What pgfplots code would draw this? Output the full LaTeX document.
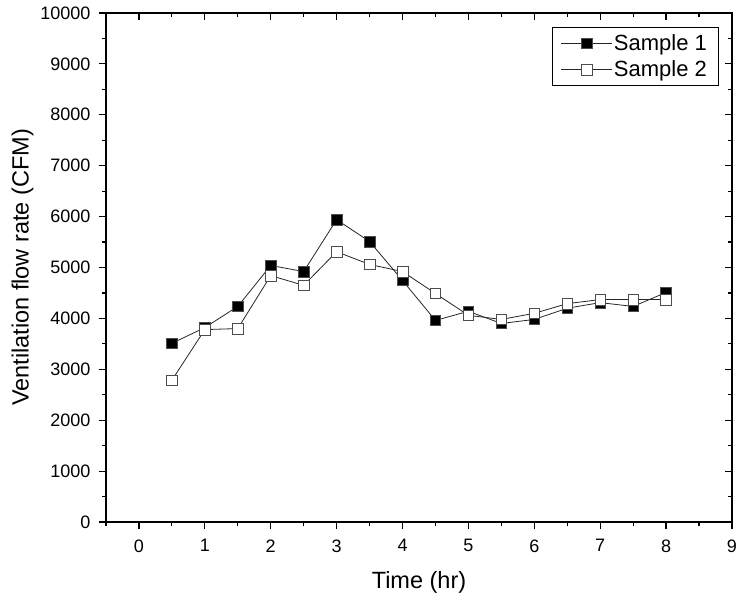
\documentclass[border=0pt]{standalone}
\usepackage{fontspec}
\setmainfont{Liberation Sans}
\usepackage{pgfplots}
\pgfplotsset{compat=1.18}

\begin{document}
\begin{tikzpicture}
  \useasboundingbox (-106pt,-76pt) rectangle (634pt,522pt);
  \begin{axis}[
      scale only axis,
      width=626pt, height=509pt,
      xmin=-0.5, xmax=9, ymin=0, ymax=10000,
      xtick={0,1,...,9}, minor xtick={-0.5,0.5,...,8.5},
      ytick={0,1000,...,10000}, minor ytick={500,1500,...,9500},
      scaled y ticks=false,
      /pgf/number format/1000 sep=,
      /pgf/number format/assume math mode=true,
      tick align=outside, xtick pos=bottom, ytick pos=left,
      major tick length=7pt, minor tick length=4pt,
      axis line style={line width=1.2pt},
      every tick/.style={line width=1.2pt, black},
      tick label style={font=\fontsize{18}{20}\selectfont},
      xticklabel style={yshift=-7pt},
      yticklabel style={xshift=-5pt},
      xlabel={Time (hr)}, ylabel={Ventilation flow rate (CFM)},
      label style={font=\fontsize{23.5}{26}\selectfont},
      xlabel style={yshift=-12pt},
      ylabel style={yshift=0pt},
      legend style={at={(0.978,0.972)}, anchor=north east, draw=black,
        line width=0.6pt, font=\fontsize{22}{24}\selectfont,
        row sep=5pt, inner xsep=9pt, inner ysep=5pt},
      legend cell align=left,
      legend image code/.code={
        \draw[mark repeat=2, mark phase=2]
          plot coordinates {(0cm,0cm) (0.88cm,0cm) (1.76cm,0cm)};},
    ]
    \addplot[black!85, line width=0.8pt, mark=square*,
      mark size=5.3pt, mark options={fill=black, draw=black!70, line width=0.6pt}]
      coordinates {(0.5,3510) (1,3820) (1.5,4235) (2,5040) (2.5,4920)
        (3,5940) (3.5,5510) (4,4745) (4.5,3960) (5,4140) (5.5,3900)
        (6,3980) (6.5,4200) (7,4310) (7.5,4235) (8,4510)};
    \addplot[black!85, line width=0.8pt, mark=square*,
      mark size=5.3pt, mark options={fill=white, draw=black!70, line width=0.6pt}]
      coordinates {(0.5,2785) (1,3780) (1.5,3800) (2,4840) (2.5,4650)
        (3,5310) (3.5,5060) (4,4920) (4.5,4490) (5,4060) (5.5,3980)
        (6,4100) (6.5,4290) (7,4370) (7.5,4370) (8,4370)};
    \legend{Sample 1, Sample 2}
  \end{axis}
  \begin{axis}[
      scale only axis,
      width=626pt, height=509pt,
      xmin=-0.5, xmax=9, ymin=0, ymax=10000,
      xtick={0,1,...,9}, minor xtick={-0.5,0.5,...,8.5},
      ytick={0,1000,...,10000}, minor ytick={500,1500,...,9500},
      scaled ticks=false,
      tick align=inside, xtick pos=top, ytick pos=right,
      xticklabels={}, yticklabels={},
      major tick length=7pt, minor tick length=4pt,
      axis line style={draw=none},
      every tick/.style={line width=1.2pt, black},
    ]
  \end{axis}
\end{tikzpicture}
\end{document}
